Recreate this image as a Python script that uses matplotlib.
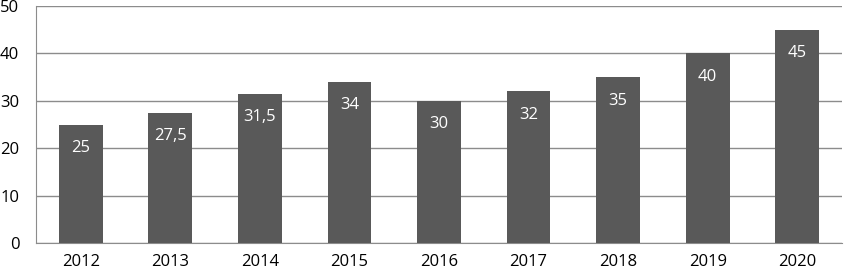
import numpy as np
import matplotlib
matplotlib.use('Agg')
import matplotlib.pyplot as plt

years = ['2012', '2013', '2014', '2015', '2016', '2017', '2018', '2019', '2020']
values = [25, 27.5, 31.5, 34, 30, 32, 35, 40, 45]
labels = ['25', '27,5', '31,5', '34', '30', '32', '35', '40', '45']

plt.rcParams['font.family'] = ['Open Sans', 'DejaVu Sans']

fig = plt.figure(figsize=(8.44, 2.75), dpi=100)
ax = fig.add_axes([36/844, 32/275, 806/844, 237/275])

x = np.arange(len(years))
ax.bar(x, values, width=0.49, color='#595959', zorder=3)
for xi, v, lab in zip(x, values, labels):
    ax.annotate(lab, (xi, v), xytext=(0, -17), textcoords='offset points',
                ha='center', va='center', color='white', fontsize=12, zorder=4)

ax.set_xlim(-0.5, len(years) - 0.5)
ax.set_ylim(0, 50)
ax.set_yticks(np.arange(0, 51, 10))
ax.set_xticks(x)
ax.set_xticklabels(years)
ax.yaxis.grid(True, color='#8c8c8c', linewidth=1, zorder=0)
for s in ['top', 'right']:
    ax.spines[s].set_visible(False)
ax.spines['left'].set_color('#8c8c8c')
ax.spines['bottom'].set_color('#8c8c8c')
ax.tick_params(axis='both', length=0, labelsize=12, colors='black')
ax.tick_params(axis='x', pad=8)
ax.tick_params(axis='y', pad=12)

fig.savefig('out.png', dpi=100)
